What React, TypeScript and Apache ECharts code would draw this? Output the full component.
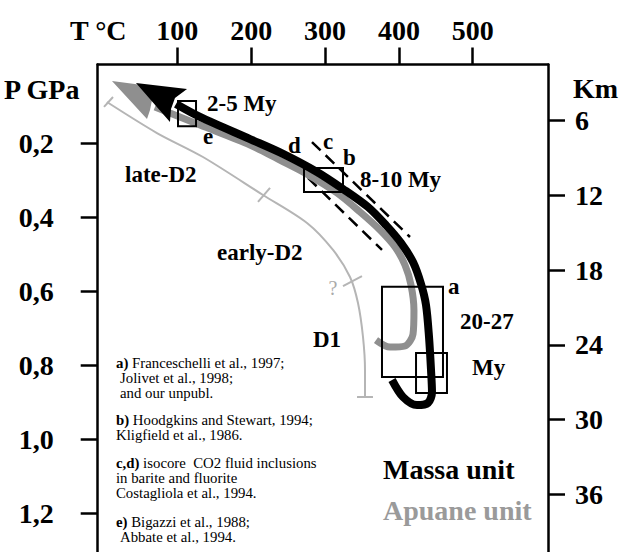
import React, { useEffect, useRef } from "react";
import * as echarts from "echarts";

// ---- axes ----
const tempTicks = [100, 200, 300, 400, 500];
const pressureTicks = [0.2, 0.4, 0.6, 0.8, 1.0, 1.2];
const depthTicks = [6, 12, 18, 24, 30, 36];
const T_MIN = -7.85;
const T_MAX = 601.9;
const P_MIN = -0.0138;
const P_MAX = 1.3488;
const KM_MIN = 1.49;
const KM_MAX = 41.9;

// ---- P-T paths: [T °C, P GPa] ----
const massaPath: [number, number][] = [
  [390.7, 0.84], [405.6, 0.886], [424.5, 0.908], [439.4, 0.902], [444.8, 0.873],
  [443.5, 0.813], [440.8, 0.724], [436.7, 0.637], [429.9, 0.58], [419.1, 0.521],
  [402.8, 0.469], [382.5, 0.421], [358.2, 0.372], [324.3, 0.323], [289.1, 0.277],
  [243.1, 0.228], [198.4, 0.188], [130.7, 0.128], [98.2, 0.093],
];
const massaArrow: [number, number][] = [
  [44.0, 0.0363], [113.1, 0.0525], [96.8, 0.0769], [91.4, 0.1066], [90.0, 0.1418],
];
const apuanePath: [number, number][] = [
  [369.0, 0.732], [388.0, 0.751], [408.3, 0.748], [419.1, 0.716], [420.4, 0.651],
  [416.4, 0.583], [408.3, 0.529], [394.7, 0.48], [374.4, 0.434], [347.3, 0.385],
  [316.2, 0.334], [275.6, 0.283], [239.0, 0.245], [198.4, 0.204], [130.7, 0.15],
  [69.7, 0.101],
];
const apuaneArrow: [number, number][] = [
  [11.5, 0.0308], [83.3, 0.0498], [65.7, 0.0823], [63.0, 0.1093], [58.9, 0.1337],
];
const deformationBoundary: [number, number][] = [
  [4.7, 0.0877], [72.4, 0.1716], [134.7, 0.2365], [216.0, 0.3394], [275.6, 0.4152],
  [310.8, 0.4882], [333.8, 0.5613], [344.6, 0.6317], [351.4, 0.7237], [354.1, 0.813],
  [354.1, 0.8861],
];
const boundaryStartBar: [number, number][] = [[0.7, 0.101], [12.9, 0.0741]];
const boundaryEndBar: [number, number][] = [[343.3, 0.8861], [364.9, 0.8861]];
const boundaryTickLate: [number, number][] = [[209.2, 0.358], [225.5, 0.32]];
const boundaryTickEarly: [number, number][] = [[324.3, 0.586], [350.0, 0.559]];
const isochoreUpper: [number, number][] = [[282.3, 0.196], [415.0, 0.453]];
const isochoreLower: [number, number][] = [[276.9, 0.293], [377.1, 0.488]];
// [Tmin, Pmin, Tmax, Pmax]
const dataBoxes: [number, number, number, number][] = [
  [100.9, 0.085, 125.3, 0.153],
  [271.5, 0.266, 324.3, 0.331],
  [377.1, 0.588, 459.7, 0.832],
  [423.2, 0.767, 465.1, 0.875],
];

// ---- notes ----
const noteLines: [string, string, number, number][] = [
  ["a)", " Franceschelli et al., 1997;", 116, 363],
  ["", "Jolivet et al., 1998;", 120, 378],
  ["", "and our unpubl.", 120, 393],
  ["b)", " Hoodgkins and Stewart, 1994;", 116, 420],
  ["", "Kligfield et al., 1986.", 116, 435],
  ["c,d)", " isocore  CO2 fluid inclusions", 116, 463],
  ["", "in barite and fluorite", 116, 478],
  ["", "Costagliola et al., 1994.", 116, 493],
  ["e)", " Bigazzi et al., 1988;", 116, 522],
  ["", "Abbate et al., 1994.", 120, 537],
];

const SERIF = '"Liberation Serif", "Times New Roman", serif';
const GRAY_THICK = "#8f8f8f";
const GRAY_THIN = "#b5b5b5";

function lineSeries(data: [number, number][], color: string, width: number, extra: any = {}) {
  return {
    type: "line",
    data,
    symbol: "none",
    silent: true,
    lineStyle: { color, width, ...(extra.lineStyle || {}) },
    smooth: extra.smooth ?? false,
    z: extra.z ?? 2,
  };
}

function polygonSeries(points: [number, number][], color: string, z: number) {
  return {
    type: "custom",
    data: points,
    encode: { x: 0, y: 1 },
    silent: true,
    z,
    renderItem: (params: any, api: any) => {
      if (params.dataIndex !== 0) return null;
      const pts = points.map((p) => api.coord(p));
      return { type: "polygon", shape: { points: pts }, style: { fill: color } };
    },
  };
}

function label(text: string, x: number, y: number, size: number, opts: any = {}) {
  return {
    type: "text",
    silent: true,
    style: {
      text,
      x,
      y,
      fill: opts.fill || "#000",
      font: `${opts.weight || "bold"} ${size}px ${SERIF}`,
      textAlign: opts.align || "left",
      textVerticalAlign: "middle",
    },
  };
}

export default function App() {
  const ref = useRef<HTMLDivElement>(null);
  useEffect(() => {
    document.body.style.margin = "0";
    if (!ref.current) return;
    const chart = echarts.init(ref.current, undefined, { renderer: "svg" });
    const axisFont = { color: "#000", fontSize: 28, fontWeight: "bold", fontFamily: SERIF };
    const axisLine = { show: true, onZero: false, lineStyle: { color: "#000", width: 2.5 } };
    const tick = (vals: number[]) => ({
      show: true,
      inside: false,
      length: 17,
      lineStyle: { color: "#000", width: 2.5 },
      customValues: vals,
    });
    const graphics: any[] = [
      label("T °C", 70, 30, 28),
      label("P GPa", 4, 89, 28),
      label("Km", 573, 88, 28),
      label("2-5 My", 207, 103, 23),
      label("e", 203, 136, 23),
      label("d", 288, 145, 23),
      label("c", 323, 141, 23),
      label("b", 343, 157, 23),
      label("8-10 My", 360, 179, 23),
      label("late-D2", 125, 174, 23),
      label("early-D2", 217, 252, 23),
      label("?", 333, 288, 20, { weight: "normal", fill: "#aaaaaa", align: "center" }),
      label("D1", 313, 339, 23),
      label("a", 448, 286, 23),
      label("20-27", 460, 321, 23),
      label("My", 472, 367, 23),
      label("Massa unit", 383, 469, 28),
      label("Apuane unit", 383, 510, 28, { fill: "#9a9a9a" }),
    ];
    noteLines.forEach(([b, rest, x, y]) => {
      graphics.push({
        type: "text",
        silent: true,
        style: {
          text: (b ? `{b|${b}}` : "") + `{r|${rest}}`,
          x,
          y,
          textAlign: "left",
          textVerticalAlign: "middle",
          rich: {
            b: { fontWeight: "bold", fontSize: 14.8, lineHeight: 14, fontFamily: SERIF, fill: "#000" },
            r: { fontWeight: "normal", fontSize: 14.8, lineHeight: 14, fontFamily: SERIF, fill: "#000" },
          },
        },
      });
    });

    chart.setOption({
      animation: false,
      grid: { left: 97.7, top: 64.5, right: 80, bottom: -16, containLabel: false, outerBoundsMode: "none" },
      xAxis: {
        type: "value",
        position: "top",
        min: T_MIN,
        max: T_MAX,
        axisLine,
        axisTick: tick(tempTicks),
        axisLabel: { ...axisFont, margin: 20, customValues: tempTicks },
        splitLine: { show: false },
      },
      yAxis: [
        {
          type: "value",
          position: "left",
          inverse: true,
          min: P_MIN,
          max: P_MAX,
          axisLine,
          axisTick: tick(pressureTicks),
          axisLabel: {
            ...axisFont,
            margin: 44,
            customValues: pressureTicks,
            formatter: (v: number) => v.toFixed(1).replace(".", ","),
          },
          splitLine: { show: false },
        },
        {
          type: "value",
          position: "right",
          inverse: true,
          min: KM_MIN,
          max: KM_MAX,
          axisLine,
          axisTick: tick(depthTicks),
          axisLabel: { ...axisFont, margin: 27, customValues: depthTicks },
          splitLine: { show: false },
        },
      ],
      series: [
        lineSeries(deformationBoundary, GRAY_THIN, 2, { smooth: 0.3 }),
        lineSeries(boundaryStartBar, GRAY_THIN, 2),
        lineSeries(boundaryEndBar, GRAY_THIN, 2),
        lineSeries(boundaryTickLate, GRAY_THIN, 2),
        lineSeries(boundaryTickEarly, GRAY_THIN, 2),
        lineSeries(isochoreUpper, "#000", 2.5, { lineStyle: { type: [12, 7] } }),
        lineSeries(isochoreLower, "#000", 2.5, { lineStyle: { type: [12, 7] } }),
        lineSeries(apuanePath, GRAY_THICK, 7, { smooth: 0.3, z: 3 }),
        polygonSeries(apuaneArrow, GRAY_THICK, 3),
        lineSeries(massaPath, "#000", 8, { smooth: 0.3, z: 4 }),
        polygonSeries(massaArrow, "#000", 4),
        {
          type: "custom",
          data: dataBoxes,
          encode: { x: [0, 2], y: [1, 3] },
          silent: true,
          z: 5,
          renderItem: (params: any, api: any) => {
            const a = api.coord([api.value(0), api.value(1)]);
            const b = api.coord([api.value(2), api.value(3)]);
            return {
              type: "rect",
              shape: {
                x: Math.min(a[0], b[0]),
                y: Math.min(a[1], b[1]),
                width: Math.abs(b[0] - a[0]),
                height: Math.abs(b[1] - a[1]),
              },
              style: { fill: "none", stroke: "#000", lineWidth: 2 },
            };
          },
        },
      ],
      graphic: graphics,
    });
    return () => chart.dispose();
  }, []);
  return <div ref={ref} style={{ width: 628, height: 552 }} />;
}
